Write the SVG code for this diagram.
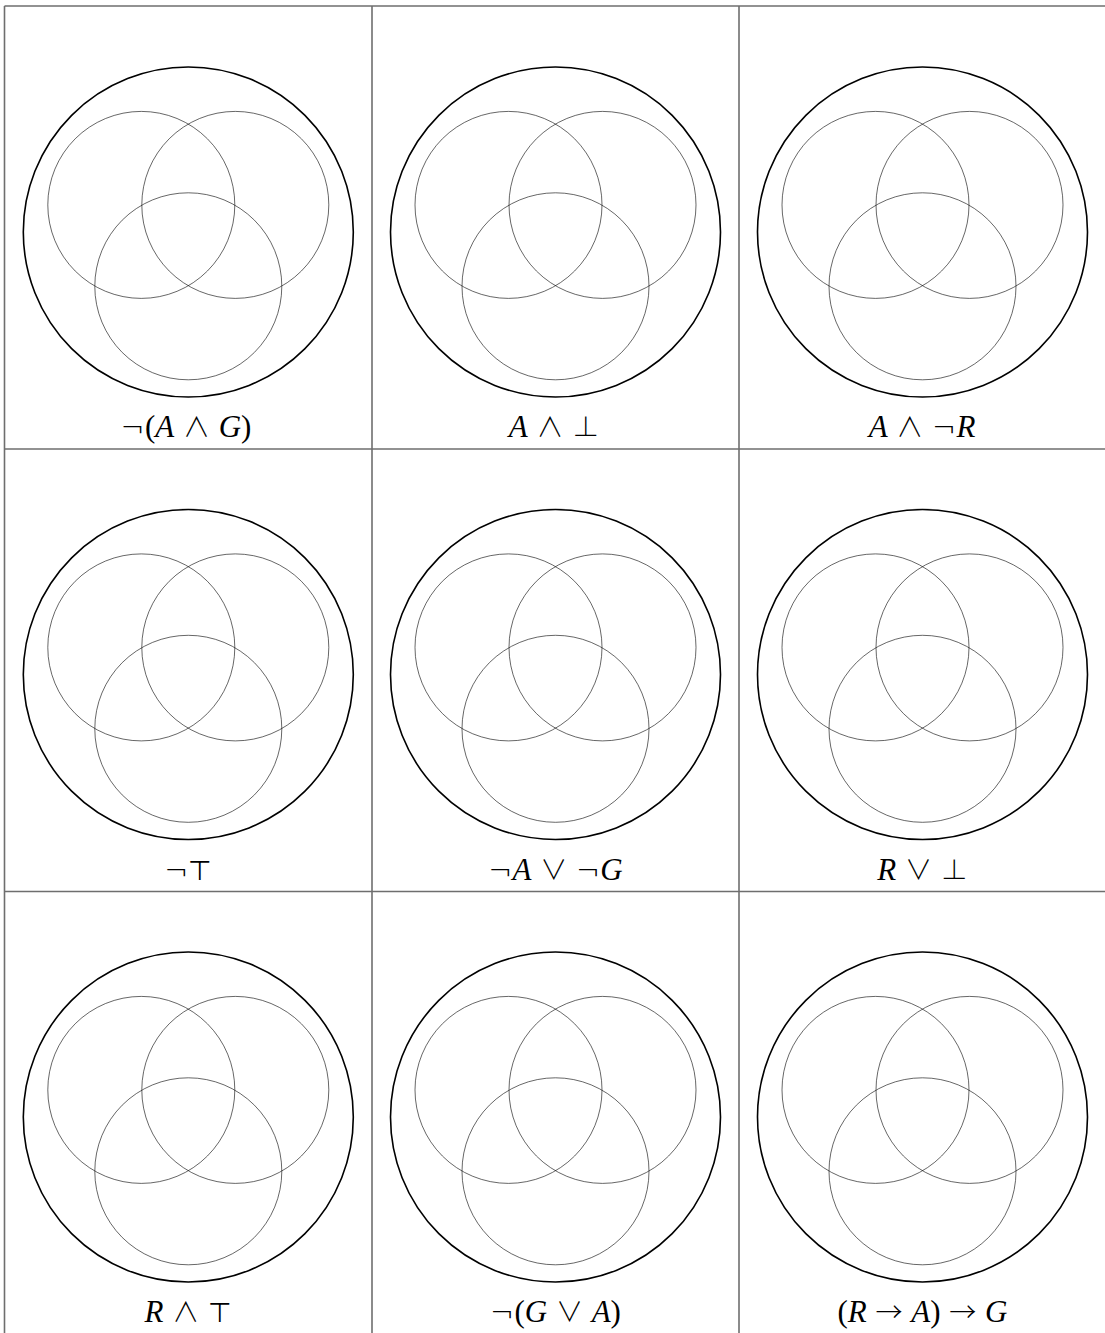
<svg xmlns="http://www.w3.org/2000/svg" width="1105" height="1333" viewBox="0 0 1105 1333">
<style>
.grid{stroke:#6e6e6e;stroke-width:1.6;fill:none}
.outer{fill:none;stroke:#000;stroke-width:1.6}
.inner{fill:none;stroke:#000;stroke-width:0.6}
.lbl{font-family:"Liberation Serif","DejaVu Serif",serif;font-size:31px;word-spacing:1px;fill:#000;text-anchor:middle}
.v{font-style:italic}
.s{font-family:"DejaVu Sans","Liberation Sans",sans-serif;font-weight:200;font-size:29px}
.o{font-family:"Noto Sans CJK JP","DejaVu Sans",sans-serif;font-weight:300;font-size:27px}
</style>
<defs>
<g id="venn">
<circle class="outer" cx="0" cy="0" r="165"/>
<circle class="inner" cx="-47" cy="-27.1" r="93.5"/>
<circle class="inner" cx="47" cy="-27.1" r="93.5"/>
<circle class="inner" cx="0" cy="54.3" r="93.5"/>
</g>
</defs>
<rect x="0" y="0" width="1105" height="1333" fill="#fff"/>
<g id="grid">
<line class="grid" x1="4.5" y1="6" x2="1105" y2="6"/>
<line class="grid" x1="4.5" y1="449" x2="1105" y2="449"/>
<line class="grid" x1="4.5" y1="891.5" x2="1105" y2="891.5"/>
<line class="grid" x1="4.5" y1="6" x2="4.5" y2="1333"/>
<line class="grid" x1="372" y1="6" x2="372" y2="1333"/>
<line class="grid" x1="739" y1="6" x2="739" y2="1333"/>
</g>
<g id="cell-1-1">
<use href="#venn" x="188.3" y="232"/>
<text class="lbl" x="186" y="437"><tspan class="s">¬</tspan>(<tspan class="v">A</tspan> <tspan class="o">∧</tspan> <tspan class="v">G</tspan>)</text>
</g>
<g id="cell-1-2">
<use href="#venn" x="555.5" y="232"/>
<text class="lbl" x="554" y="437"><tspan class="v">A</tspan> <tspan class="o">∧</tspan> <tspan class="o">⊥</tspan></text>
</g>
<g id="cell-1-3">
<use href="#venn" x="922.5" y="232"/>
<text class="lbl" x="922" y="437"><tspan class="v">A</tspan> <tspan class="o">∧</tspan> <tspan class="s">¬</tspan><tspan class="v">R</tspan></text>
</g>
<g id="cell-2-1">
<use href="#venn" x="188.3" y="674.5"/>
<text class="lbl" x="188.3" y="879.5"><tspan class="s">¬</tspan><tspan class="o">⊤</tspan></text>
</g>
<g id="cell-2-2">
<use href="#venn" x="555.5" y="674.5"/>
<text class="lbl" x="555.5" y="879.5"><tspan class="s">¬</tspan><tspan class="v">A</tspan> <tspan class="o">∨</tspan> <tspan class="s">¬</tspan><tspan class="v">G</tspan></text>
</g>
<g id="cell-2-3">
<use href="#venn" x="922.5" y="674.5"/>
<text class="lbl" x="922.5" y="879.5"><tspan class="v">R</tspan> <tspan class="o">∨</tspan> <tspan class="o">⊥</tspan></text>
</g>
<g id="cell-3-1">
<use href="#venn" x="188.3" y="1117"/>
<text class="lbl" x="188.3" y="1322"><tspan class="v">R</tspan> <tspan class="o">∧</tspan> <tspan class="o">⊤</tspan></text>
</g>
<g id="cell-3-2">
<use href="#venn" x="555.5" y="1117"/>
<text class="lbl" x="555.5" y="1322"><tspan class="s">¬</tspan>(<tspan class="v">G</tspan> <tspan class="o">∨</tspan> <tspan class="v">A</tspan>)</text>
</g>
<g id="cell-3-3">
<use href="#venn" x="922.5" y="1117"/>
<text class="lbl" x="922.5" y="1322" word-spacing="4">(<tspan class="v">R</tspan> <tspan class="o">→</tspan> <tspan class="v">A</tspan>) <tspan class="o">→</tspan> <tspan class="v">G</tspan></text>
</g>
</svg>
